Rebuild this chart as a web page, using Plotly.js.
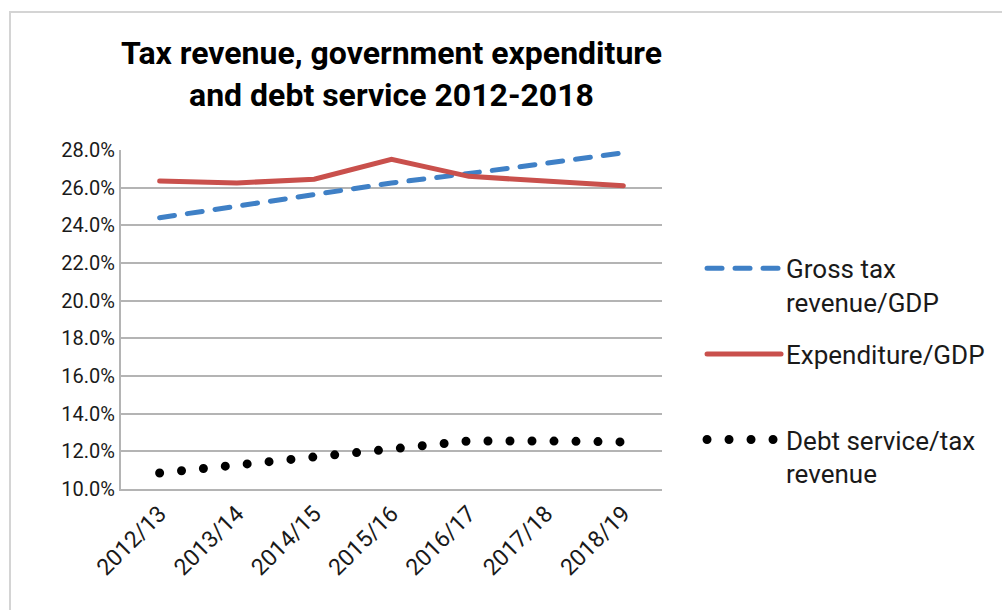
<!DOCTYPE html>
<html>
<head>
<meta charset="utf-8">
<script src="https://cdn.plot.ly/plotly-3.0.1.min.js"></script>
<style>
  html, body { margin: 0; padding: 0; background: #ffffff; }
  #frame { position: absolute; left: 9px; top: 11px; width: 1100px; height: 700px;
           border-top: 2px solid #d4d4d4; border-left: 2px solid #d4d4d4; }
  #chart { position: absolute; left: 0; top: 0; width: 1002px; height: 610px; }
  .js-line { stroke-linecap: round; }
</style>
</head>
<body>
<div id="frame"></div>
<div id="chart"></div>
<script>
const years = ["2012/13", "2013/14", "2014/15", "2015/16", "2016/17", "2017/18", "2018/19"];
const grossTaxRevenueGDP = [24.4, 25.0, 25.6, 26.25, 26.75, 27.3, 27.85];
const expenditureGDP = [26.35, 26.25, 26.45, 27.5, 26.6, 26.35, 26.1];
const debtServiceTaxRevenue = [10.85, 11.25, 11.65, 12.05, 12.55, 12.55, 12.5];
const yTicks = [10, 12, 14, 16, 18, 20, 22, 24, 26, 28];
const yTickText = yTicks.map(v => v.toFixed(1) + '%');

const FONT = 'Roboto, "Noto Sans", sans-serif';

const traces = [
  { x: years, y: grossTaxRevenueGDP, type: 'scatter', mode: 'lines',
    name: 'Gross tax<br>revenue/GDP', legendgroup: 'a',
    line: { color: '#3f80c6', width: 5, dash: '15px,13px' }, hoverinfo: 'skip' },
  { x: years, y: expenditureGDP, type: 'scatter', mode: 'lines',
    name: 'Expenditure/GDP<br> ', legendgroup: 'b',
    line: { color: '#c9504c', width: 5 }, hoverinfo: 'skip' },
  { x: years, y: debtServiceTaxRevenue, type: 'scatter', mode: 'lines',
    name: 'Debt service/tax<br>revenue', legendgroup: 'c',
    line: { color: '#000000', width: 9, dash: '0px,22px' }, hoverinfo: 'skip' }
];

const layout = {
  width: 1002, height: 610,
  paper_bgcolor: 'rgba(0,0,0,0)', plot_bgcolor: 'rgba(0,0,0,0)',
  margin: { l: 121, r: 337, t: 150, b: 121 },
  font: { family: FONT, color: '#1a1a1a', size: 18 },
  title: { text: '<b>Tax revenue, government expenditure<br>and debt service 2012-2018</b>',
           font: { family: FONT, size: 32, color: '#000' },
           x: 0.5, xref: 'paper', xanchor: 'center',
           y: 1 - 64/610, yref: 'container', yanchor: 'top' },
  xaxis: { type: 'category', tickangle: -45, showgrid: false, showline: true,
           linecolor: '#b4b4b4', linewidth: 2, ticks: '', tickfont: { size: 23, color: '#1a1a1a' },
           range: [-0.5, 6.5], fixedrange: true },
  yaxis: { range: [10, 28], tickmode: 'array', tickvals: yTicks, ticktext: yTickText,
           showgrid: true, gridcolor: '#b4b4b4', gridwidth: 2, showline: true,
           linecolor: '#b4b4b4', linewidth: 2, ticks: '', zeroline: false,
           tickfont: { size: 20, color: '#1a1a1a' }, fixedrange: true },
  showlegend: true,
  legend: { x: 1.074, xanchor: 'left', y: 0.72, yanchor: 'top',
            font: { family: FONT, size: 26, color: '#1a1a1a' },
            itemwidth: 74, valign: 'top', tracegroupgap: 15, bgcolor: 'rgba(0,0,0,0)' }
};

Plotly.newPlot('chart', traces, layout, { displayModeBar: false, staticPlot: true });
</script>
</body>
</html>
